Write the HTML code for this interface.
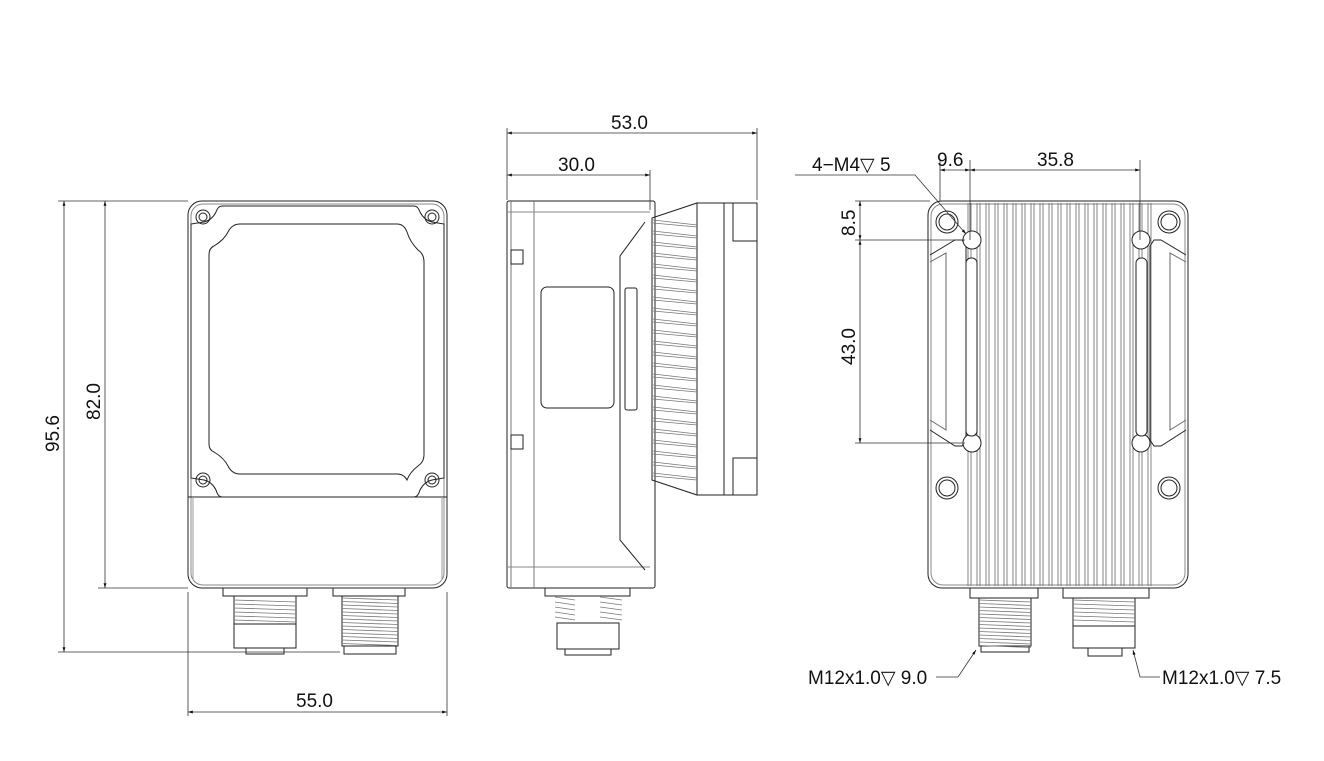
<!DOCTYPE html>
<html><head><meta charset="utf-8"><style>
html,body{margin:0;padding:0;background:#fff;}
svg{display:block}
text{font-family:"Liberation Sans",sans-serif;font-size:19px;fill:#111}
</style></head><body>
<svg id="s" width="1324" height="761" viewBox="0 0 1324 761" xmlns="http://www.w3.org/2000/svg">
<defs>
<marker id="a" viewBox="0 0 10 10" refX="10" refY="5" markerWidth="8" markerHeight="6" orient="auto-start-reverse"><path d="M0,2 L10,5 L0,8z" fill="#111"/></marker>
</defs>
<g fill="none" stroke="#222" stroke-width="1">
<!-- FRONT VIEW -->
<rect x="188" y="201" width="259" height="387" rx="14"/>
<rect x="191" y="204" width="253" height="381" rx="12" stroke="#888"/>
<path d="M188,497 H447"/>
<path d="M193,497 V580 M442,497 V580" stroke="#999"/>
<path d="M222,206 H414 Q418,206 420,212 Q424,220 432,222 L444,224 V478 L432,480 Q424,482 420,490 Q418,497 414,497 H222 Q218,497 216,490 Q212,482 204,480 L191,478 V224 L204,222 Q212,220 216,212 Q218,206 222,206z"/>
<path d="M240,224 H397 Q404,224 407,232 Q410,242 418,250 Q424,254 424,262 V455 Q424,462 418,466 Q410,472 407,480 Q404,474 397,474 H240 Q232,474 228,466 Q224,458 214,452 Q209,450 209,444 V255 Q209,248 214,246 Q224,240 228,232 Q232,224 240,224z"/>
<circle cx="203" cy="217" r="7"/><circle cx="203" cy="217" r="4"/>
<circle cx="432" cy="217" r="7"/><circle cx="432" cy="217" r="4"/>
<circle cx="203" cy="480" r="7"/><circle cx="203" cy="480" r="4"/>
<circle cx="432" cy="480" r="7"/><circle cx="432" cy="480" r="4"/>
<rect x="223" y="588" width="84" height="8"/>
<rect x="333" y="588" width="72" height="8"/>
<rect x="234" y="596" width="62" height="28"/>
<rect x="234" y="624" width="62" height="24"/>
<rect x="246" y="648" width="38" height="6"/>
<rect x="342" y="596" width="56" height="50"/>
<rect x="344" y="646" width="52" height="8"/>
<g id="th1" stroke="#777" stroke-width="0.8"></g>
<g stroke="#333" stroke-width="0.8">
<path d="M58,201 H188 M98,588 H188 M58,652 H340"/>
<path d="M188,592 V716 M447,592 V716"/>
<path d="M64,201 V652" marker-start="url(#a)" marker-end="url(#a)"/>
<path d="M105,201 V588" marker-start="url(#a)" marker-end="url(#a)"/>
<path d="M188,712 H447" marker-start="url(#a)" marker-end="url(#a)"/>
</g>
<!-- SIDE VIEW -->
<rect x="507" y="201" width="148" height="387" rx="2"/>
<path d="M511,201 V588 M534,201 V588" stroke="#777"/>
<path d="M507,567 H650 M507,212 H650" stroke="#888"/>
<path d="M645,222 L620,256 V540 L645,570" />
<rect x="541" y="287" width="73" height="121" rx="6"/>
<rect x="625" y="288" width="12" height="122" rx="2"/>
<rect x="511" y="250" width="12" height="14"/><rect x="511" y="435" width="12" height="14"/>
<path d="M652,218 L697,203 V495 L652,480 Z" />
<rect x="697" y="203" width="27" height="292"/>
<rect x="724" y="203" width="33" height="292"/>
<rect x="733" y="203" width="24" height="38"/><rect x="733" y="458" width="24" height="37"/>
<g id="fins" stroke="#777" stroke-width="0.8"></g>
<rect x="545" y="588" width="85" height="8"/>
<rect x="557" y="623" width="62" height="26"/>
<rect x="565" y="649" width="46" height="6"/>
<g id="th2" stroke="#777" stroke-width="0.8"></g>
<g stroke="#333" stroke-width="0.8">
<path d="M507,128 V200 M757,128 V200 M650,170 V210"/>
<path d="M507,133 H757" marker-start="url(#a)" marker-end="url(#a)"/>
<path d="M507,175 H650" marker-start="url(#a)" marker-end="url(#a)"/>
</g>
<!-- REAR VIEW -->
<rect x="928" y="201" width="260" height="387" rx="14"/>
<rect x="931" y="204" width="254" height="381" rx="12" stroke="#888"/>
<g id="rfins" stroke="#666" stroke-width="0.8"></g>
<path d="M930,255 L955,240 H962 L966,246 V440 L962,446 H955 L930,430" />
<path d="M1186,255 L1161,240 H1154 L1150,246 V440 L1154,446 H1161 L1186,430" />
<path d="M930,262 L946,253 V430 L930,420 M1186,262 L1170,253 V430 L1186,420" stroke="#666"/>
<circle cx="947" cy="222" r="11"/><circle cx="947" cy="222" r="8"/>
<circle cx="1169" cy="222" r="11"/><circle cx="1169" cy="222" r="8"/>
<circle cx="947" cy="488" r="11"/><circle cx="947" cy="488" r="8"/>
<circle cx="1169" cy="488" r="11"/><circle cx="1169" cy="488" r="8"/>
<circle cx="972" cy="240" r="9" fill="#fff"/><circle cx="1141" cy="240" r="9" fill="#fff"/>
<circle cx="972" cy="443" r="9" fill="#fff"/><circle cx="1141" cy="443" r="9" fill="#fff"/>
<rect x="966" y="258" width="11" height="178" rx="5" fill="#fff"/>
<rect x="1136" y="258" width="11" height="178" rx="5" fill="#fff"/>
<rect x="970" y="588" width="68" height="10"/>
<rect x="1063" y="588" width="86" height="10"/>
<rect x="979" y="598" width="52" height="48"/>
<rect x="981" y="646" width="48" height="6"/>
<rect x="1073" y="598" width="62" height="28"/>
<rect x="1073" y="626" width="62" height="22"/>
<rect x="1088" y="648" width="34" height="8"/>
<g id="th3" stroke="#777" stroke-width="0.8"></g>
<g stroke="#333" stroke-width="0.8">
<path d="M940,160 V201 M970,160 V240 M1140,160 V240"/>
<path d="M940,170 H970" marker-start="url(#a)" marker-end="url(#a)"/>
<path d="M970,170 H1140" marker-start="url(#a)" marker-end="url(#a)"/>
<path d="M855,201 H930 M855,240 H965 M855,443 H965"/>
<path d="M860,201 V240" marker-start="url(#a)" marker-end="url(#a)"/>
<path d="M860,240 V443" marker-start="url(#a)" marker-end="url(#a)"/>
<path d="M795,175 H915 L966,234" marker-end="url(#a)"/>
<path d="M936,677 H958 L976,650" marker-end="url(#a)"/>
<path d="M1160,677 H1140 L1133,650" marker-end="url(#a)"/>
</g>
</g>
<text x="296" y="707">55.0</text>
<text x="611" y="129">53.0</text>
<text x="558" y="171">30.0</text>
<text transform="translate(59,452) rotate(-90)">95.6</text>
<text transform="translate(100,420) rotate(-90)">82.0</text>
<text x="812" y="171">4−M4▽ 5</text>
<text x="937" y="166">9.6</text>
<text x="1037" y="166">35.8</text>
<text transform="translate(855,236) rotate(-90)">8.5</text>
<text transform="translate(855,365) rotate(-90)">43.0</text>
<text x="808" y="684">M12x1.0▽ 9.0</text>
<text x="1162" y="684">M12x1.0▽ 7.5</text>
</svg>
<script>
function L(id,x1,y1,x2,y2){var g=document.getElementById(id);var l=document.createElementNS("http://www.w3.org/2000/svg","line");l.setAttribute("x1",x1);l.setAttribute("y1",y1);l.setAttribute("x2",x2);l.setAttribute("y2",y2);g.appendChild(l);}
for(var y=600;y<622;y+=4)L("th1",234,y,296,y+2);
for(var y=598;y<646;y+=3.5)L("th1",342,y,398,y+2);
for(var y=597;y<622;y+=5){L("th2",555,y,575,y+3);L("th2",600,y,622,y+3);}
for(var y=600;y<646;y+=3.5)L("th3",979,y,1031,y+2);
for(var y=600;y<624;y+=4)L("th3",1073,y,1135,y+2);
for(var y=220;y<482;y+=11){L("fins",653,y,697,y+5);L("fins",653,y+3,697,y+7);}
for(var x=968;x<=1148;x+=9){L("rfins",x,203,x,586);L("rfins",x+3,203,x+3,586);}
</script>
</body></html>
